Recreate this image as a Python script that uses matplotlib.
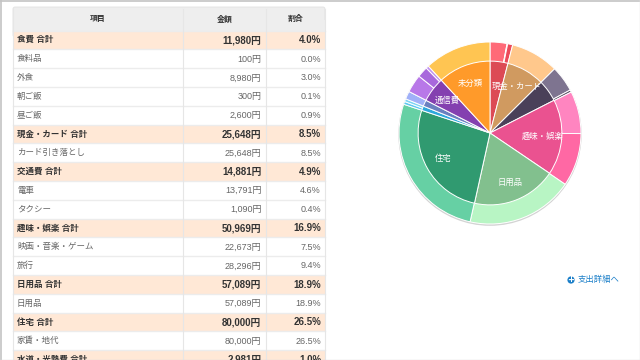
import matplotlib
matplotlib.use("Agg")
import matplotlib.pyplot as plt
from matplotlib.patches import Rectangle, Circle, FancyBboxPatch

plt.rcParams['font.family'] = ['Liberation Sans', 'Noto Sans CJK JP', 'DejaVu Sans']

headers = ["項目", "金額", "割合"]
items = ["食費 合計", "食料品", "外食", "朝ご飯", "昼ご飯", "現金・カード 合計", "カード引き落とし",
         "交通費 合計", "電車", "タクシー", "趣味・娯楽 合計", "映画・音楽・ゲーム", "旅行",
         "日用品 合計", "日用品", "住宅 合計", "家賃・地代", "水道・光熱費 合計"]
amounts = ["11,980円", "100円", "8,980円", "300円", "2,600円", "25,648円", "25,648円",
           "14,881円", "13,791円", "1,090円", "50,969円", "22,673円", "28,296円",
           "57,089円", "57,089円", "80,000円", "80,000円", "2,981円"]
shares = ["4.0%", "0.0%", "3.0%", "0.1%", "0.9%", "8.5%", "8.5%", "4.9%", "4.6%", "0.4%",
          "16.9%", "7.5%", "9.4%", "18.9%", "18.9%", "26.5%", "26.5%", "1.0%"]

# inner ring = groups, outer ring = sub items
inner_labels = ["", "現金・カード", "", "趣味・娯楽", "日用品", "住宅", "", "", "通信費", "未分類"]
inner_values = [4.0, 8.5, 4.9, 16.9, 18.9, 26.5, 1.0, 1.4, 5.6, 11.8]
inner_colors = ["#dc4a55", "#d09a60", "#4a4059", "#ea5290", "#82c08e", "#309a70",
                "#2ea8dc", "#6a80c0", "#8440b0", "#ff9a2a"]
outer_values = [3.0, 0.1, 0.9, 8.5, 4.6, 0.4, 7.5, 9.4, 18.9, 26.5, 0.5, 0.5, 1.4, 3.2, 1.9, 0.5, 11.8]
outer_colors = ["#ff6a78", "#ffb0b8", "#ec4a5a", "#ffc88c", "#7e7490", "#5a5068", "#ff85c0",
                "#ff68a4", "#b8f5c4", "#66d0a4", "#5cc8f0", "#7cd4f4", "#a0b0f8", "#b878e8",
                "#a868dc", "#c090f0", "#ffc552"]

fig = plt.figure(figsize=(6.4, 3.6), dpi=100)
ax = fig.add_axes([0, 0, 1, 1])
ax.set_xlim(0, 640)
ax.set_ylim(360, 0)
ax.axis("off")

# table
left, right = 13, 325
col1, col2 = 183, 265.5
top, head_bottom = 7, 30.5
row_h = 18.8

ax.add_patch(FancyBboxPatch((left, top), right - left, 30, boxstyle="round,pad=0,rounding_size=2",
                            fc="#eeeeee", ec="#e2e2e2", lw=0.6))
ax.add_patch(Rectangle((left, 20), right - left, head_bottom - 20, fc="#eeeeee", ec="none"))
ax.text((left + col1) / 2, 19.3, headers[0], ha="center", va="center", fontsize=5.7, fontweight="bold", color="#333333")
ax.text((col1 + col2) / 2, 19.3, headers[1], ha="center", va="center", fontsize=5.7, fontweight="bold", color="#333333")
ax.text((col2 + right) / 2, 19.3, headers[2], ha="center", va="center", fontsize=5.7, fontweight="bold", color="#333333")

for i in range(len(items)):
    y = head_bottom + row_h * i
    total = "合計" in items[i]
    ax.add_patch(Rectangle((left, y), right - left, row_h, fc="#ffe8d6" if total else "white", ec="none"))
    ax.plot([left, right], [y, y], color="#ececec", lw=1)
    weight = "bold" if total else "normal"
    color = "#333333" if total else "#666666"
    size = 7 if total else 6.5
    cy = y + row_h / 2 + 0.4
    ax.text(left + 4, cy, items[i], ha="left", va="center", fontsize=6.1, fontweight=weight, color=color)
    ax.text(col2 - 4, cy, amounts[i], ha="right", va="center", fontsize=size, fontweight=weight, color=color)
    ax.text(right - 4, cy, shares[i], ha="right", va="center", fontsize=size, fontweight=weight, color=color)

for x in [left, col1, col2, right]:
    ax.plot([x, x], [top + 2, 360], color="#e6e6e6", lw=0.8)

# page frame
ax.plot([0, 640], [0.5, 0.5], color="#c4c4c4", lw=1.2)
ax.plot([0.5, 0.5], [0, 360], color="#c4c4c4", lw=1.2)
ax.plot([639.5, 639.5], [0, 360], color="#e4e4e4", lw=1)
ax.plot([0, 640], [359.5, 359.5], color="#dcdcdc", lw=1)

# link bottom right
ax.add_patch(Circle((571, 280), 3.6, fc="#1a7ec8", ec="none"))
ax.text(571, 279.7, "+", ha="center", va="center", fontsize=6, fontweight="bold", color="white", family="DejaVu Sans")
ax.text(578, 280, "支出詳細へ", ha="left", va="center", fontsize=6, color="#1a7ec8")

# double pie, radius 91 px around (490, 133)
pax = fig.add_axes([(490 - 100.1) / 640, 1 - (133 + 100.1) / 360, 200.2 / 640, 200.2 / 360])
pax.add_patch(Circle((0, -0.012), 1.008, fc="#c8c8c8", ec="none", alpha=0.8))

pax.pie(outer_values, colors=outer_colors, radius=1.0, startangle=90, counterclock=False,
        wedgeprops=dict(edgecolor="white", linewidth=0.7))
wedges, texts = pax.pie(inner_values, colors=inner_colors, radius=0.79, startangle=90, counterclock=False,
                        labels=inner_labels, labeldistance=0.74,
                        wedgeprops=dict(edgecolor="white", linewidth=0.7))
for t in texts:
    t.set_ha("center")
    t.set_va("center")
    t.set_color("white")
    t.set_fontsize(6)
pax.set_xlim(-1.1, 1.1)
pax.set_ylim(-1.1, 1.1)
pax.axis("off")

fig.savefig("out.png", dpi=100)
